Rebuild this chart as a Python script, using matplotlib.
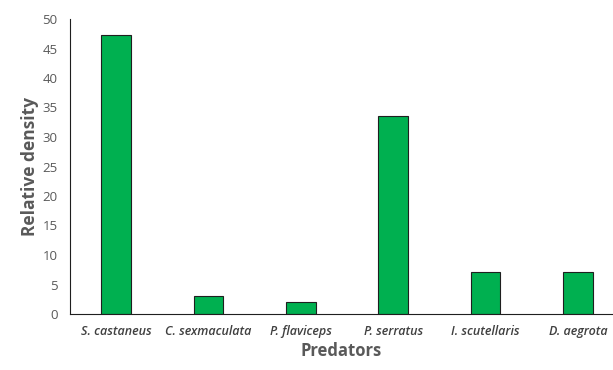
import matplotlib
matplotlib.use("Agg")
import matplotlib.pyplot as plt

# ── data ─────────────────────────────────────────────────────────────────────
predators = ["S. castaneus", "C. sexmaculata", "P. flaviceps",
             "P. serratus", "I. scutellaris", "D. aegrota"]
density = [47.3, 3.0, 2.0, 33.6, 7.1, 7.1]

GREY = "#595959"
GREEN = "#00B050"

fig = plt.figure(figsize=(6.13, 3.70), dpi=100, facecolor="white")
ax = fig.add_axes([70 / 613, 56 / 370, 1 - 70 / 613, 295 / 370])

x = range(len(predators))
ax.bar(x, density, width=0.32, color=GREEN, edgecolor="#1f1f1f", linewidth=0.8)

ax.set_ylim(0, 50)
ax.set_yticks(range(0, 51, 5))
ax.set_xlim(-0.5, 5.38)
ax.set_xticks(list(x))
ax.set_xticklabels(predators, fontsize=9, style="italic", weight="semibold",
                   family="Open Sans", color="#404040")
for lab in ax.get_yticklabels():
    lab.set_fontsize(9.5)
    lab.set_family("Open Sans")
    lab.set_color(GREY)

ax.tick_params(axis="both", length=0)
ax.tick_params(axis="x", pad=8)
ax.tick_params(axis="y", pad=9)
for side in ("top", "right"):
    ax.spines[side].set_visible(False)
ax.spines["left"].set_color("#1f1f1f")
ax.spines["bottom"].set_color("#1f1f1f")

ax.set_ylabel("Relative density", fontsize=12.5, fontweight="bold",
              family="Open Sans", color=GREY, labelpad=2)
ax.set_xlabel("Predators", fontsize=12, fontweight="bold",
              family="Open Sans", color=GREY, labelpad=3)

fig.savefig("out.png", dpi=100, facecolor="white")
